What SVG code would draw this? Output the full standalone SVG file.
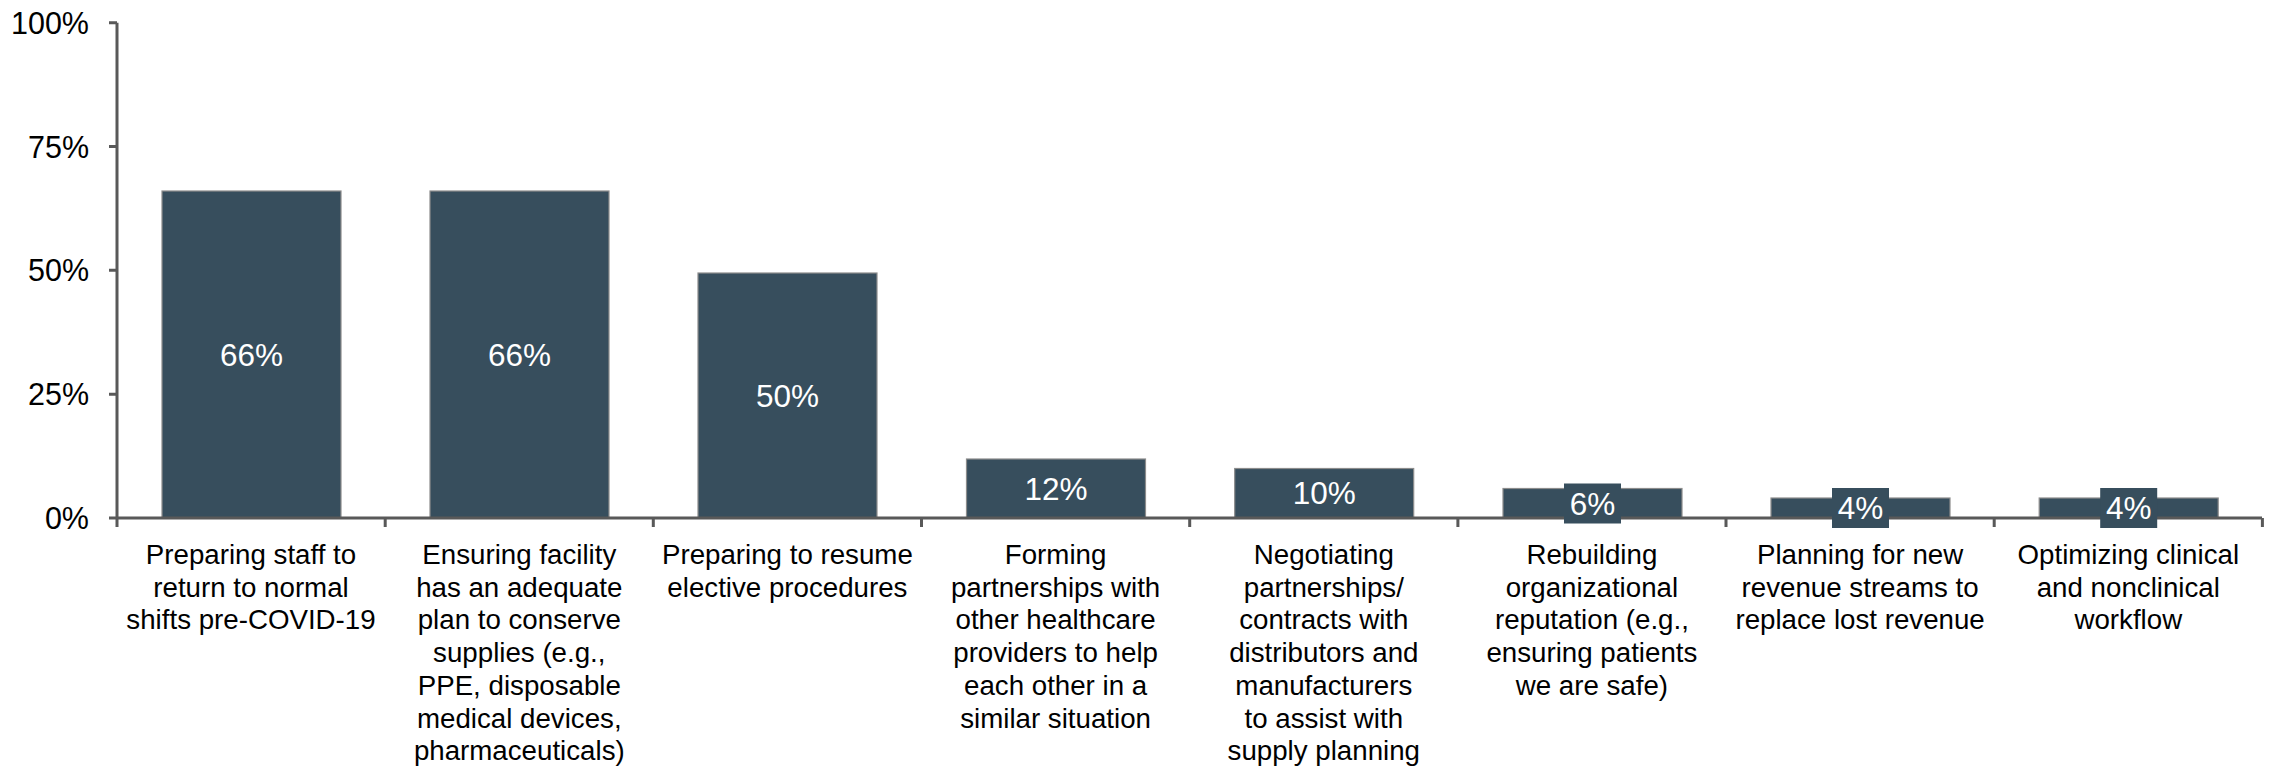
<svg xmlns="http://www.w3.org/2000/svg" width="2276" height="772" viewBox="0 0 2276 772">
<style>
.bar{fill:#374e5d;stroke:#8c8c8c;stroke-width:1.2}
.box{fill:#374e5d}
.val{font-family:"Liberation Sans",Arial,sans-serif;font-size:31.5px;fill:#ffffff;text-anchor:middle}
.ax{font-family:"Liberation Sans",Arial,sans-serif;font-size:30.5px;fill:#000000;text-anchor:end}
.cat{font-family:"Liberation Sans",Arial,sans-serif;font-size:27.7px;fill:#000000;text-anchor:middle}
.axis{stroke:#595959;stroke-width:3;fill:none}
</style>
<rect width="2276" height="772" fill="#ffffff"/>
<g id="y-labels">
<text class="ax" x="89" y="33.5">100%</text>
<text class="ax" x="89" y="157.5">75%</text>
<text class="ax" x="89" y="281">50%</text>
<text class="ax" x="89" y="405">25%</text>
<text class="ax" x="89" y="529">0%</text>
</g>
<g id="bar1">
<rect class="bar" x="162" y="191" width="179" height="327"/>
<text class="val" x="251.5" y="365.5">66%</text>
<text class="cat" x="251" y="564"><tspan x="251">Preparing staff to</tspan><tspan x="251" dy="32.7">return to normal</tspan><tspan x="251" dy="32.7">shifts pre-COVID-19</tspan></text>
</g>
<g id="bar2">
<rect class="bar" x="430" y="191" width="179" height="327"/>
<text class="val" x="519.5" y="365.5">66%</text>
<text class="cat" x="519.3" y="564"><tspan x="519.3">Ensuring facility</tspan><tspan x="519.3" dy="32.7">has an adequate</tspan><tspan x="519.3" dy="32.7">plan to conserve</tspan><tspan x="519.3" dy="32.7">supplies (e.g.,</tspan><tspan x="519.3" dy="32.7">PPE, disposable</tspan><tspan x="519.3" dy="32.7">medical devices,</tspan><tspan x="519.3" dy="32.7">pharmaceuticals)</tspan></text>
</g>
<g id="bar3">
<rect class="bar" x="698" y="273" width="179" height="245"/>
<text class="val" x="787.5" y="406.5">50%</text>
<text class="cat" x="787.4" y="564"><tspan x="787.4">Preparing to resume</tspan><tspan x="787.4" dy="32.7">elective procedures</tspan></text>
</g>
<g id="bar4">
<rect class="bar" x="966.5" y="459" width="179" height="59"/>
<text class="val" x="1056" y="499.5">12%</text>
<text class="cat" x="1055.6" y="564"><tspan x="1055.6">Forming</tspan><tspan x="1055.6" dy="32.7">partnerships with</tspan><tspan x="1055.6" dy="32.7">other healthcare</tspan><tspan x="1055.6" dy="32.7">providers to help</tspan><tspan x="1055.6" dy="32.7">each other in a</tspan><tspan x="1055.6" dy="32.7">similar situation</tspan></text>
</g>
<g id="bar5">
<rect class="bar" x="1234.7" y="468.5" width="179" height="49.5"/>
<text class="val" x="1324.2" y="504">10%</text>
<text class="cat" x="1323.8" y="564"><tspan x="1323.8">Negotiating</tspan><tspan x="1323.8" dy="32.7">partnerships/</tspan><tspan x="1323.8" dy="32.7">contracts with</tspan><tspan x="1323.8" dy="32.7">distributors and</tspan><tspan x="1323.8" dy="32.7">manufacturers</tspan><tspan x="1323.8" dy="32.7">to assist with</tspan><tspan x="1323.8" dy="32.7">supply planning</tspan></text>
</g>
<g id="bar6">
<rect class="bar" x="1503" y="488.5" width="179" height="29.5"/>
<text class="cat" x="1591.9" y="564"><tspan x="1591.9">Rebuilding</tspan><tspan x="1591.9" dy="32.7">organizational</tspan><tspan x="1591.9" dy="32.7">reputation (e.g.,</tspan><tspan x="1591.9" dy="32.7">ensuring patients</tspan><tspan x="1591.9" dy="32.7">we are safe)</tspan></text>
</g>
<g id="bar7">
<rect class="bar" x="1771" y="498" width="179" height="20"/>
<text class="cat" x="1860.1" y="564"><tspan x="1860.1">Planning for new</tspan><tspan x="1860.1" dy="32.7">revenue streams to</tspan><tspan x="1860.1" dy="32.7">replace lost revenue</tspan></text>
</g>
<g id="bar8">
<rect class="bar" x="2039.2" y="498" width="179" height="20"/>
<text class="cat" x="2128.3" y="564"><tspan x="2128.3">Optimizing clinical</tspan><tspan x="2128.3" dy="32.7">and nonclinical</tspan><tspan x="2128.3" dy="32.7">workflow</tspan></text>
</g>
<g id="connectors">
<path class="axis" d="M117 22.7 V518 H2262 M109 22.7 H117 M109 146.5 H117 M109 270.3 H117 M109 394.2 H117 M109 518 H117 M117 518 V527 M385.2 518 V527 M653.3 518 V527 M921.5 518 V527 M1189.7 518 V527 M1457.9 518 V527 M1726 518 V527 M1994.2 518 V527 M2262.4 518 V527"/>
</g>
<g id="small-labels">
<rect class="box" x="1564" y="483.5" width="57" height="40"/>
<text class="val" x="1592.5" y="514.5">6%</text>
<rect class="box" x="1832" y="488" width="57" height="40"/>
<text class="val" x="1860.5" y="519">4%</text>
<rect class="box" x="2100.2" y="488" width="57" height="40"/>
<text class="val" x="2128.7" y="519">4%</text>
</g>
</svg>
